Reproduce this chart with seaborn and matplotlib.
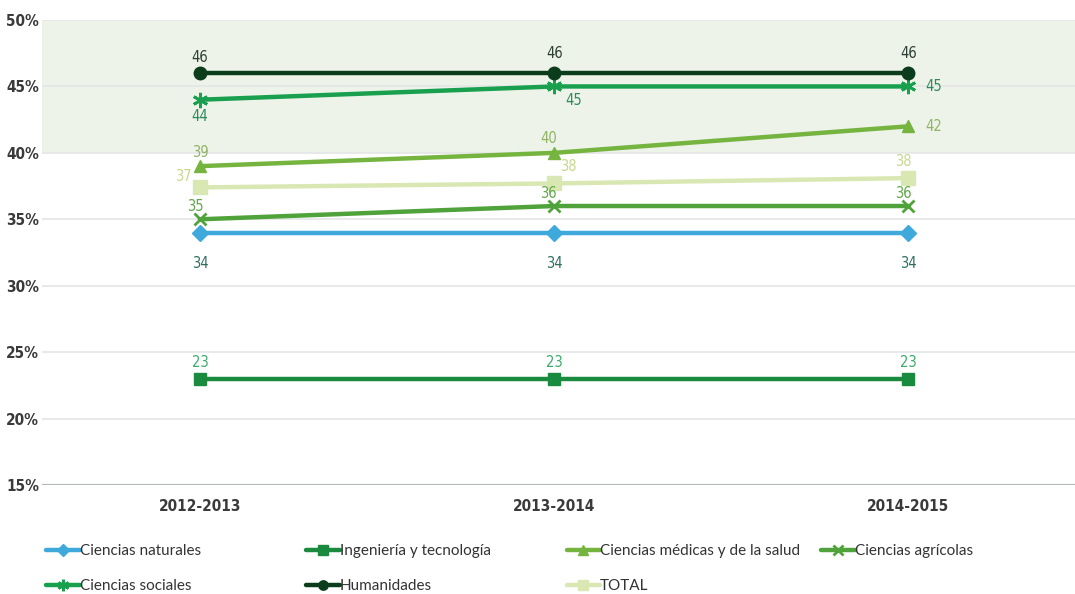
import matplotlib
matplotlib.use("Agg")
import matplotlib.pyplot as plt
import seaborn as sns
import pandas as pd

# Academic years on the x axis
years = ["2012-2013", "2013-2014", "2014-2015"]

# Percentage per field of knowledge
ciencias_naturales = [34, 34, 34]
ingenieria_tecnologia = [23, 23, 23]
ciencias_medicas = [39, 40, 42]
ciencias_agricolas = [35, 36, 36]
ciencias_sociales = [44, 45, 45]
humanidades = [46, 46, 46]
total = [37.4, 37.7, 38.1]

y_ticks = [15, 20, 25, 30, 35, 40, 45, 50]

series = [
    # name, values, line colour, marker, marker size, label colour, label offsets (pts) per point
    ("Ciencias naturales", ciencias_naturales, "#3fa9dc", "D", 8, "#2f6f5f",
     [(0, -22), (0, -22), (0, -22)]),
    ("Ingeniería y tecnología", ingenieria_tecnologia, "#1a8a3e", "s", 9, "#3aaa6a",
     [(0, 12), (0, 12), (0, 12)]),
    ("Ciencias médicas y de la salud", ciencias_medicas, "#76b440", "^", 9, "#8fb464",
     [(0, 10), (-4, 10), (18, 0)]),
    ("Ciencias agrícolas", ciencias_agricolas, "#4fa33a", "x", 9, "#62a64a",
     [(-3, 9), (-4, 9), (-4, 9)]),
    ("Ciencias sociales", ciencias_sociales, "#19a04e", (6, 2, 0), 11, "#2e8a5c",
     [(0, -12), (14, -10), (18, 0)]),
    ("Humanidades", humanidades, "#0b3d1c", "o", 9, "#2d3f33",
     [(0, 11), (0, 14), (0, 14)]),
    ("TOTAL", total, "#d9e7b3", "s", 10, "#c7d88e",
     [(-12, 8), (10, 12), (-4, 12)]),
]

sns.set_style("white")
fig = plt.figure(figsize=(10.75, 5.94), dpi=100)
ax = fig.add_axes([0.039, 0.1835, 0.961, 0.7828])

# Shaded upper band
ax.axhspan(40, 50, color="#eef3e9", zorder=0, lw=0)
for t in y_ticks[1:]:
    ax.axhline(t, color="#e4e6e6", lw=1.2, zorder=1)
ax.axhline(15, color="#b5b8b8", lw=1.6, zorder=1)

tick_font = dict(family="DejaVu Sans", fontstretch="condensed", fontweight="bold",
                 fontsize=11, color="#3a3a3a")

for name, vals, color, marker, ms, lcol, offs in series:
    df = pd.DataFrame({"year": years, "value": vals})
    sns.lineplot(data=df, x="year", y="value", ax=ax, color=color, lw=3.2,
                 marker=marker, markersize=ms, markeredgecolor=color,
                 markeredgewidth=2 if marker in ("x",) or isinstance(marker, tuple) else 1,
                 label=name, zorder=3, sort=False)
    for i, (v, off) in enumerate(zip(vals, offs)):
        ax.annotate(f"{v:.0f}", (i, v), xytext=off, textcoords="offset points",
                    ha="center", va="center", fontsize=10.5, color=lcol,
                    family="DejaVu Sans", fontstretch="condensed", zorder=4)

ax.set_xlim(-0.446, 2.47)
ax.set_ylim(15, 50)
ax.set_yticks(y_ticks)
ax.set_yticklabels([f"{t}%" for t in y_ticks], **tick_font)
ax.set_xticks(range(len(years)))
ax.set_xticklabels(years, **tick_font)
ax.tick_params(axis="y", length=0, pad=2)
ax.tick_params(axis="x", length=0, pad=10)
ax.set_xlabel("")
ax.set_ylabel("")
for s in ax.spines.values():
    s.set_visible(False)

# Legend below the plot: four fixed columns, two rows
h, l = ax.get_legend_handles_labels()
ax.get_legend().remove()
lookup = dict(zip(l, h))
columns = [
    (0.043, ["Ciencias naturales", "Ciencias sociales"]),
    (0.285, ["Ingeniería y tecnología", "Humanidades"]),
    (0.527, ["Ciencias médicas y de la salud", "TOTAL"]),
    (0.764, ["Ciencias agrícolas"]),
]
for x0, names in columns:
    leg = fig.legend([lookup[n] for n in names], names, loc="upper left",
                     bbox_to_anchor=(x0, 0.084), frameon=False, handlelength=2.2,
                     handletextpad=0.0, labelspacing=1.4, borderaxespad=0,
                     borderpad=0, prop={"family": "Lato", "size": 11},
                     markerscale=0.75)
    for t in leg.get_texts():
        t.set_color("#333333")

fig.savefig("out.png", dpi=100)
